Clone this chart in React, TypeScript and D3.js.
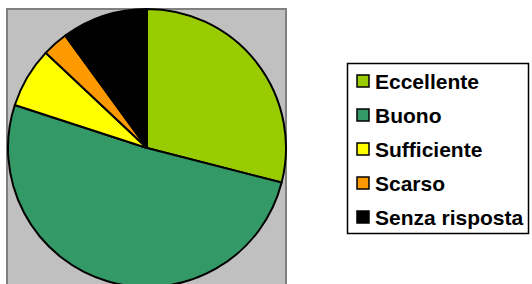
import React from 'react';
import * as d3 from 'd3';

// categories and shares (%)
const categories = ['Eccellente', 'Buono', 'Sufficiente', 'Scarso', 'Senza risposta'];
const values = [29, 51, 7, 3, 10];
const colors = ['#99cc00', '#339966', '#ffff00', '#ff9900', '#000000'];

const W = 532;
const H = 284;

const App = () => {
  const cx = 147;
  const cy = 148;
  const r = 139;

  const data = categories.map((name, i) => ({ name, value: values[i], color: colors[i] }));

  const pie = d3.pie<any>()
    .value(d => d.value)
    .sort(null);

  const arc = d3.arc<any>()
    .innerRadius(0)
    .outerRadius(r);

  const arcs = pie(data);

  // legend layout
  const legX = 347;
  const legY = 63;
  const legW = 181;
  const legH = 170;
  const rowY = d3.scaleLinear().domain([0, categories.length - 1]).range([legY + 18, legY + 154]);

  return (
    <svg width={W} height={H} style={{ position: 'absolute', left: 0, top: 0, background: '#fff' }}>
      {/* plot area */}
      <rect x={7} y={9} width={279} height={290} fill="#c0c0c0" stroke="#808080" strokeWidth={2} />
      <g transform={`translate(${cx},${cy})`}>
        {arcs.map((a, i) => (
          <path key={i} d={arc(a) as string} fill={a.data.color} stroke="#000" strokeWidth={2} strokeLinejoin="round" />
        ))}
      </g>
      {/* legend */}
      <rect x={legX + 0.5} y={legY + 0.5} width={legW} height={legH} fill="#fff" stroke="#000" strokeWidth={1.5} />
      {data.map((d, i) => (
        <g key={d.name} transform={`translate(${legX + 10},${rowY(i)})`}>
          <rect x={0} y={-6} width={12} height={12} fill={d.color} stroke="#000" strokeWidth={1.5} />
          <text x={18} y={0} dy="0.36em" fontFamily="Liberation Sans, Arial, sans-serif" fontWeight="bold" fontSize={21} fill="#000">
            {d.name}
          </text>
        </g>
      ))}
    </svg>
  );
};

export default App;
